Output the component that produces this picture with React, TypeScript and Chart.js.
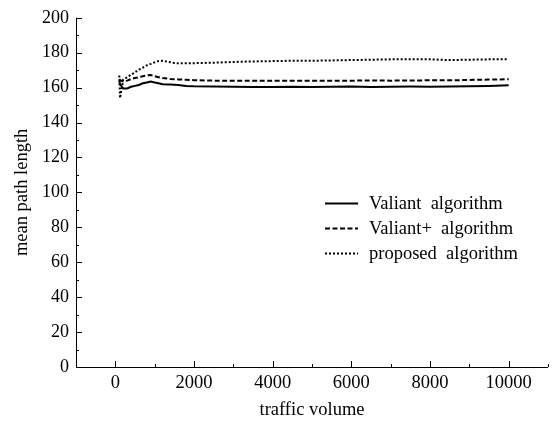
import { useEffect, useRef } from "react";
import { Chart, registerables } from "chart.js";

Chart.register(...registerables);

const trafficVolume = [100, 120, 200, 300, 400, 500, 600, 700, 800, 900, 1000, 1100, 1200, 1400, 1600, 1800, 2000, 2500, 3000, 3500, 4000, 4500, 5000, 5500, 6000, 6500, 7000, 7500, 8000, 8500, 9000, 9500, 10000];
const valiant = [164, 162, 159.5, 159.5, 160.5, 161, 161.5, 162.5, 163, 163.5, 163, 162.5, 162, 161.8, 161.5, 161, 160.8, 160.6, 160.5, 160.3, 160.3, 160.5, 160.3, 160.5, 160.6, 160.4, 160.5, 160.6, 160.5, 160.7, 160.8, 161, 161.3];
const valiantPlus = [164.9, 164.2, 163.6, 164, 164.9, 165.5, 166, 166.5, 167, 167.2, 166.5, 166, 165.5, 165, 164.7, 164.5, 164.3, 164, 164, 163.9, 164, 164, 163.9, 164, 164, 164.1, 164, 164.1, 164.2, 164.2, 164.4, 164.6, 164.8];
const proposed = [167, 154, 164.6, 166, 167.4, 168.8, 170.3, 171.5, 172.8, 173.6, 174.5, 175.2, 175.4, 174.5, 173.9, 173.9, 174, 174.3, 174.7, 175, 175.2, 175.4, 175.4, 175.6, 175.8, 176, 176.2, 176.3, 176.2, 175.8, 176, 176.2, 176.3];

const seriesLabels = ["Valiant  algorithm", "Valiant+  algorithm", "proposed  algorithm"];
const xTickLabels = [0, 2000, 4000, 6000, 8000, 10000];
const xMinorTicks = [-1000, 1000, 3000, 5000, 7000, 9000, 11000];
const yTickLabels = [0, 20, 40, 60, 80, 100, 120, 140, 160, 180, 200];
const yMinorTicks = [10, 30, 50, 70, 90, 110, 130, 150, 170, 190];

const FONT = "'Liberation Serif', 'Times New Roman', serif";

const axesPlugin = {
  id: "axesPlugin",
  afterDraw(chart: any) {
    const ctx = chart.ctx;
    const { left, bottom, right, top } = chart.chartArea;
    const xs = chart.scales.x;
    const ys = chart.scales.y;
    ctx.save();
    ctx.strokeStyle = "#000";
    ctx.lineWidth = 1;
    ctx.beginPath();
    ctx.moveTo(left + 0.5, top);
    ctx.lineTo(left + 0.5, bottom + 0.5);
    ctx.lineTo(right, bottom + 0.5);
    ctx.stroke();
    ctx.beginPath();
    xTickLabels.forEach((v) => {
      const px = Math.round(xs.getPixelForValue(v)) + 0.5;
      ctx.moveTo(px, bottom);
      ctx.lineTo(px, bottom - 6);
    });
    xMinorTicks.forEach((v) => {
      const px = Math.round(xs.getPixelForValue(v)) + 0.5;
      ctx.moveTo(px, bottom);
      ctx.lineTo(px, bottom - 3);
    });
    yTickLabels.forEach((v) => {
      const py = Math.round(ys.getPixelForValue(v)) + 0.5;
      ctx.moveTo(left, py);
      ctx.lineTo(left + 6, py);
    });
    yMinorTicks.forEach((v) => {
      const py = Math.round(ys.getPixelForValue(v)) + 0.5;
      ctx.moveTo(left, py);
      ctx.lineTo(left + 3, py);
    });
    ctx.stroke();

    // legend
    const rows = [203, 228, 253];
    ctx.font = `18.5px ${FONT}`;
    ctx.textBaseline = "middle";
    ctx.fillStyle = "#000";
    chart.data.datasets.forEach((ds: any, i: number) => {
      ctx.beginPath();
      ctx.setLineDash(ds.borderDash || []);
      ctx.lineWidth = ds.borderWidth;
      ctx.moveTo(325, rows[i] + 0.5);
      ctx.lineTo(358, rows[i] + 0.5);
      ctx.stroke();
      ctx.setLineDash([]);
      ctx.fillText(ds.label, 369, rows[i] + 1);
    });
    ctx.restore();
  },
};

export default function App() {
  const ref = useRef<HTMLCanvasElement>(null);
  useEffect(() => {
    document.body.style.margin = "0";
    const toXY = (arr: number[]) => arr.map((y, i) => ({ x: trafficVolume[i], y }));
    const chart = new Chart(ref.current!, {
      type: "line",
      data: {
        datasets: [
          { label: seriesLabels[0], data: toXY(valiant), borderColor: "#000", borderWidth: 2, pointRadius: 0, tension: 0 },
          { label: seriesLabels[1], data: toXY(valiantPlus), borderColor: "#000", borderWidth: 2, borderDash: [5, 2.5], pointRadius: 0, tension: 0 },
          { label: seriesLabels[2], data: toXY(proposed), borderColor: "#000", borderWidth: 2, borderDash: [2, 2], pointRadius: 0, tension: 0 },
        ],
      },
      options: {
        animation: false,
        responsive: false,
        layout: { padding: { top: 15, right: 4, left: 0, bottom: 0 } },
        plugins: { legend: { display: false }, tooltip: { enabled: false } },
        scales: {
          x: {
            type: "linear",
            min: -1000,
            max: 11000,
            afterBuildTicks: (s: any) => {
              s.ticks = xTickLabels.map((v) => ({ value: v }));
            },
            afterFit: (s: any) => {
              s.height = 55;
            },
            grid: { display: false, drawTicks: false },
            border: { display: false },
            ticks: { color: "#000", font: { family: FONT, size: 18.5 }, padding: 5, maxRotation: 0, autoSkip: false, callback: (v: any) => String(v) },
            title: { display: true, text: "traffic volume", color: "#000", font: { family: FONT, size: 18.5 }, padding: { top: 4, bottom: 1 } },
          },
          y: {
            type: "linear",
            min: 0,
            max: 200,
            afterBuildTicks: (s: any) => {
              s.ticks = yTickLabels.map((v) => ({ value: v }));
            },
            afterFit: (s: any) => {
              s.width = 76;
            },
            grid: { display: false, drawTicks: false },
            border: { display: false },
            ticks: { color: "#000", font: { family: FONT, size: 18 }, padding: 7, autoSkip: false, callback: (v: any) => String(v) },
            title: { display: true, text: "mean path length", color: "#000", font: { family: FONT, size: 18.5 }, padding: { top: 11, bottom: 4 } },
          },
        },
      },
      plugins: [axesPlugin],
    });
    return () => chart.destroy();
  }, []);
  return <canvas ref={ref} width={552} height={422} />;
}
